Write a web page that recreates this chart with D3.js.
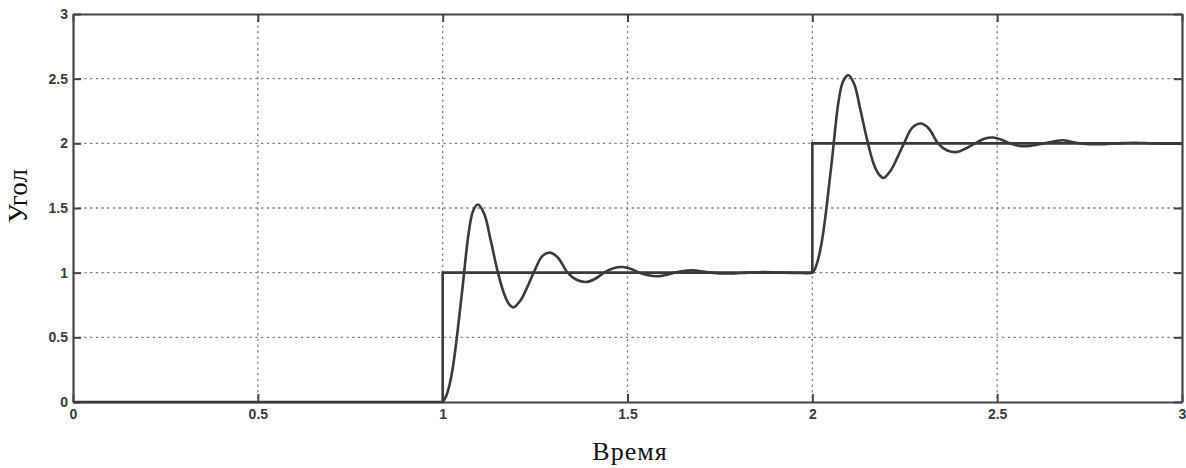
<!DOCTYPE html>
<html>
<head>
<meta charset="utf-8">
<script src="https://cdn.jsdelivr.net/npm/d3@7"></script>
<style>
  html, body { margin: 0; padding: 0; background: #fff; }
  svg { display: block; }
</style>
</head>
<body>
<svg id="chart" width="1186" height="468"></svg>
<script>
// ---- data ----
const xTicks = [0, 0.5, 1, 1.5, 2, 2.5, 3];
const yTicks = [0, 0.5, 1, 1.5, 2, 2.5, 3];
const xTickLabels = ["0", "0.5", "1", "1.5", "2", "2.5", "3"];
const yTickLabels = ["0", "0.5", "1", "1.5", "2", "2.5", "3"];

// reference (setpoint) signal
const refTime  = [0, 1, 1, 2, 2, 3];
const refAngle = [0, 0, 1, 1, 2, 2];

// system response
const respTime = [
  1.000, 1.008, 1.017, 1.026, 1.035, 1.044, 1.053, 1.062, 1.071, 1.082, 1.095,
  1.112, 1.130, 1.148, 1.166, 1.180, 1.192, 1.211, 1.229, 1.247, 1.270, 1.290,
  1.312, 1.338, 1.362, 1.389, 1.414, 1.437, 1.462, 1.487, 1.510, 1.532, 1.556,
  1.581, 1.605, 1.626, 1.650, 1.676, 1.700, 1.725, 1.775, 1.825, 1.870, 1.920,
  1.970, 2.000,
  2.008, 2.017, 2.026, 2.035, 2.044, 2.053, 2.062, 2.071, 2.083, 2.098,
  2.113, 2.130, 2.148, 2.166, 2.180, 2.193, 2.212, 2.230, 2.248, 2.270, 2.294,
  2.315, 2.340, 2.365, 2.391, 2.415, 2.440, 2.465, 2.488, 2.510, 2.534, 2.557,
  2.579, 2.605, 2.628, 2.652, 2.678, 2.700, 2.725, 2.775, 2.825, 2.870, 2.920,
  2.970, 3.000
];
const respAngle = [
  0.000, 0.035, 0.115, 0.240, 0.420, 0.640, 0.864, 1.110, 1.320, 1.475, 1.527,
  1.457, 1.250, 1.019, 0.838, 0.755, 0.732, 0.787, 0.889, 1.005, 1.130, 1.155,
  1.115, 1.000, 0.945, 0.928, 0.955, 1.000, 1.035, 1.044, 1.028, 1.000, 0.980,
  0.972, 0.983, 1.000, 1.013, 1.018, 1.010, 1.000, 0.993, 1.000, 1.005, 1.000,
  0.998, 1.000,
  1.035, 1.118, 1.245, 1.425, 1.645, 1.868, 2.115, 2.325, 2.478, 2.527,
  2.460, 2.260, 2.030, 1.840, 1.760, 1.732, 1.790, 1.890, 2.000, 2.120, 2.153,
  2.115, 2.000, 1.945, 1.933, 1.960, 2.000, 2.035, 2.045, 2.030, 2.000, 1.982,
  1.978, 1.988, 2.000, 2.014, 2.024, 2.012, 2.000, 1.993, 2.000, 2.005, 2.000,
  1.998, 2.000
];

// ---- layout ----
const L = 73, R = 1182, T = 14, B = 402;
const svg = d3.select("#chart");

const x = d3.scaleLinear().domain([0, 3]).range([L, R]);
const y = d3.scaleLinear().domain([0, 3]).range([B, T]);

const gridColor = "#7a7a7a";
const axisColor = "#444";
const lineColor = "#3a3a3a";

// grid
const grid = svg.append("g");
grid.selectAll("line.gx").data(xTicks.slice(1, -1)).join("line")
  .attr("x1", d => x(d)).attr("x2", d => x(d))
  .attr("y1", T).attr("y2", B)
  .attr("stroke", gridColor).attr("stroke-width", 1.3)
  .attr("stroke-dasharray", "2.2,3.5");
grid.selectAll("line.gy").data(yTicks.slice(1, -1)).join("line")
  .attr("x1", L).attr("x2", R)
  .attr("y1", d => y(d)).attr("y2", d => y(d))
  .attr("stroke", gridColor).attr("stroke-width", 1.3)
  .attr("stroke-dasharray", "2.2,3.5");

// axes (inward ticks on all four sides)
const tickLen = 8;
const fmtX = (d, i) => xTickLabels[i];
const fmtY = (d, i) => yTickLabels[i];

const axB = svg.append("g").attr("transform", `translate(0,${B})`)
  .call(d3.axisBottom(x).tickValues(xTicks).tickFormat(fmtX).tickSizeInner(-tickLen).tickSizeOuter(0).tickPadding(5));
const axT = svg.append("g").attr("transform", `translate(0,${T})`)
  .call(d3.axisTop(x).tickValues(xTicks).tickFormat("").tickSizeInner(-tickLen).tickSizeOuter(0));
const axL = svg.append("g").attr("transform", `translate(${L},0)`)
  .call(d3.axisLeft(y).tickValues(yTicks).tickFormat(fmtY).tickSizeInner(-tickLen).tickSizeOuter(0).tickPadding(5));
const axR = svg.append("g").attr("transform", `translate(${R},0)`)
  .call(d3.axisRight(y).tickValues(yTicks).tickFormat("").tickSizeInner(-tickLen).tickSizeOuter(0));

[axB, axT, axL, axR].forEach(a => {
  a.select(".domain").attr("stroke", axisColor).attr("stroke-width", 2.2);
  a.selectAll(".tick line").attr("stroke", axisColor).attr("stroke-width", 2);
  a.selectAll(".tick text")
    .attr("fill", "#3a3a3a")
    .style("font-family", "'Liberation Sans', Arial, sans-serif")
    .style("font-weight", "bold")
    .style("font-size", "14px");
});
axB.selectAll(".tick text").attr("dy", "0.71em").attr("y", 7);
axL.selectAll(".tick text").attr("x", -5);

// lines
const line = d3.line().x(d => x(d[0])).y(d => y(d[1]));
const refData = refTime.map((t, i) => [t, refAngle[i]]);
const respData = respTime.map((t, i) => [t, respAngle[i]]);

svg.append("path").datum(refData)
  .attr("d", line)
  .attr("fill", "none").attr("stroke", lineColor).attr("stroke-width", 2.6);

svg.append("path").datum(respData)
  .attr("d", d3.line().x(d => x(d[0])).y(d => y(d[1])).curve(d3.curveCatmullRom.alpha(0.5)))
  .attr("fill", "none").attr("stroke", lineColor).attr("stroke-width", 2.6);

// axis titles
svg.append("text")
  .attr("x", 630).attr("y", 460)
  .attr("text-anchor", "middle")
  .style("font-family", "'Liberation Serif', 'Times New Roman', serif")
  .style("font-size", "26px")
  .style("letter-spacing", "1px")
  .attr("fill", "#111")
  .text("Время");

svg.append("text")
  .attr("transform", `translate(27,196) rotate(-90)`)
  .attr("text-anchor", "middle")
  .style("font-family", "'Liberation Serif', 'Times New Roman', serif")
  .style("font-size", "27px")
  .attr("fill", "#111")
  .text("Угол");
</script>
</body>
</html>
